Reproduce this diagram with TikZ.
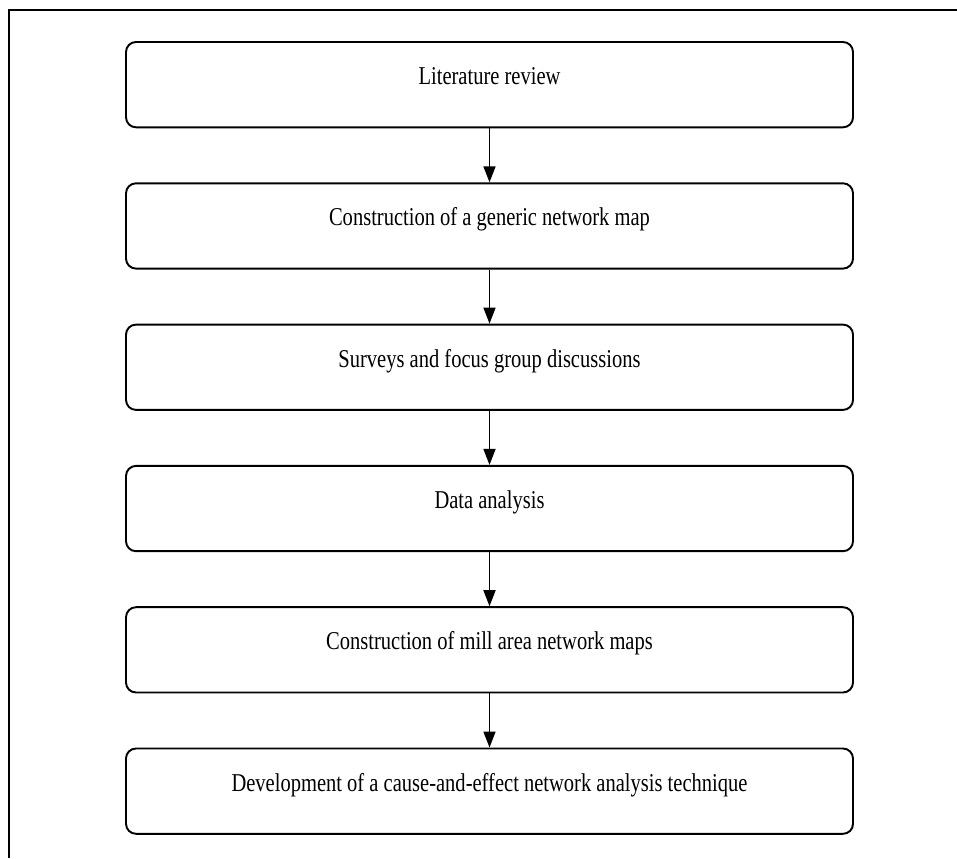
\documentclass[tikz,border=0pt]{standalone}
\usepackage{fontspec}
\setmainfont[FakeStretch=0.8]{Liberation Serif}
\usetikzlibrary{arrows.meta}
\begin{document}
\begin{tikzpicture}[node distance=2.826cm,>={Triangle[length=0.32cm,width=0.24cm]},
        stage/.style={draw, rectangle, rounded corners=0.2cm, line width=1.1pt,
          minimum width=14.54cm, minimum height=1.706cm, text height=0.35cm, text depth=0.35cm,
          font=\fontsize{14.6}{16}\selectfont}]
        \useasboundingbox (0,0) rectangle (19.14,17.16);
        \draw[line width=1.7pt] (0.18,0) -- (0.18,16.96) -- (19.14,16.96);

        \node (review) [stage] at (9.79,15.467) {Literature review};
        \node (generic) [stage, below of=review] {Construction of a generic network map};
        \node (surveys) [stage, below of=generic] {Surveys and focus group discussions};
        \node (analysis) [stage, below of=surveys] {Data analysis};
        \node (millmaps) [stage, below of=analysis] {Construction of mill area network maps};
        \node (technique) [stage, below of=millmaps] {Development of a cause-and-effect network analysis technique};

        \draw[->, line width=0.9pt] (review) -- (generic);
        \draw[->, line width=0.9pt] (generic) -- (surveys);
        \draw[->, line width=0.9pt] (surveys) -- (analysis);
        \draw[->, line width=0.9pt] (analysis) -- (millmaps);
        \draw[->, line width=0.9pt] (millmaps) -- (technique);
\end{tikzpicture}
\end{document}
